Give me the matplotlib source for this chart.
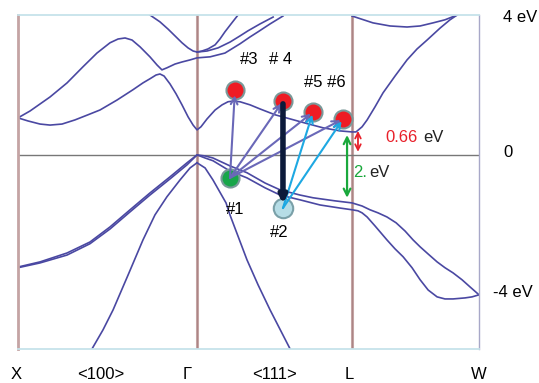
import matplotlib
matplotlib.use("Agg")
import matplotlib.pyplot as plt

plt.rcParams['font.family'] = ['Liberation Sans', 'DejaVu Sans']

# k-path positions (X-Gamma = 1)
k_X, k_G, k_L, k_W = 0.0, 1.0, 1.866, 2.575
k_labels = ['X', '<100>', 'Γ', '<111>', 'L', 'W']
k_label_pos = [-0.011, 0.464, 0.944, 1.43, 1.85, 2.575]

# conduction bands (k, eV)
cb1_k = [0, 0.056, 0.123, 0.179, 0.246, 0.318, 0.391, 0.458, 0.553, 0.642, 0.698, 0.737,
         0.771, 0.793, 0.816, 0.849, 0.883, 0.916, 0.950, 0.978, 1.0,
         1.022, 1.056, 1.101, 1.140, 1.173, 1.201, 1.240, 1.296, 1.352, 1.436, 1.520,
         1.603, 1.704, 1.799, 1.866,
         1.888, 1.922, 1.950, 1.994, 2.039, 2.106, 2.173, 2.229, 2.285, 2.358, 2.413, 2.453]
cb1_e = [1.08, 0.99, 0.90, 0.87, 0.90, 1.02, 1.17, 1.31, 1.60, 1.90, 2.10, 2.22,
         2.33, 2.36, 2.30, 2.07, 1.78, 1.46, 1.11, 0.87, 0.73,
         0.82, 1.05, 1.31, 1.46, 1.55, 1.57, 1.55, 1.46, 1.34, 1.17, 1.05,
         0.93, 0.79, 0.70, 0.67,
         0.67, 0.82, 1.02, 1.40, 1.81, 2.30, 2.77, 3.09, 3.35, 3.70, 3.94, 4.08]
cb2_k = [0, 0.067, 0.179, 0.274, 0.363, 0.441, 0.514, 0.559, 0.598, 0.637, 0.682, 0.737,
         0.777, 0.804, 0.832, 0.877, 0.916, 0.961, 1.0,
         1.073, 1.156, 1.240, 1.296, 1.341, 1.408, 1.480]
cb2_e = [1.08, 1.28, 1.69, 2.10, 2.57, 2.97, 3.27, 3.38, 3.41, 3.35, 3.15, 2.86,
         2.62, 2.48, 2.54, 2.65, 2.71, 2.77, 2.83,
         2.86, 2.97, 3.24, 3.44, 3.59, 3.82, 4.05]
cb3_k = [0.737, 0.793, 0.838, 0.877, 0.916, 0.950, 0.978, 1.0, 1.028, 1.061, 1.101,
         1.128, 1.156, 1.190, 1.229]
cb3_e = [4.08, 3.88, 3.67, 3.47, 3.27, 3.12, 3.03, 3.00, 3.03, 3.09, 3.21,
         3.38, 3.59, 3.82, 4.08]
cb4_k = [1.0, 1.056, 1.117, 1.184, 1.240, 1.285, 1.352, 1.425]
cb4_e = [3.00, 3.03, 3.12, 3.29, 3.47, 3.62, 3.82, 4.02]
cb5_k = [1.866, 1.983, 2.078, 2.173, 2.246, 2.318, 2.385, 2.453]
cb5_e = [4.05, 3.85, 3.76, 3.73, 3.76, 3.85, 3.94, 4.08]

# valence bands
hh1_k = [0, 0.123, 0.274, 0.402, 0.514, 0.626, 0.737, 0.849, 0.944, 1.0,
         1.045, 1.089, 1.184, 1.279, 1.380, 1.464, 1.575, 1.648, 1.771, 1.866,
         1.922, 1.966, 2.011, 2.061, 2.112, 2.162, 2.207, 2.246, 2.291, 2.341, 2.385,
         2.430, 2.480, 2.525, 2.575]
hh1_e = [-3.27, -3.12, -2.86, -2.54, -2.10, -1.60, -1.11, -0.64, -0.23, 0.0,
         -0.03, -0.09, -0.32, -0.52, -0.82, -1.02, -1.17, -1.25, -1.34, -1.40,
         -1.49, -1.60, -1.69, -1.81, -1.98, -2.22, -2.48, -2.68, -2.89, -3.12, -3.29,
         -3.44, -3.64, -3.85, -4.08]
hh2_k = [0, 0.123, 0.274, 0.402, 0.514, 0.626, 0.737, 0.849, 0.944, 1.0,
         1.045, 1.089, 1.184, 1.279, 1.380, 1.464, 1.575, 1.687, 1.799, 1.866,
         1.899, 1.922, 1.950, 1.994, 2.061, 2.106, 2.151, 2.201, 2.246, 2.291, 2.341,
         2.385, 2.430, 2.497, 2.536, 2.575]
hh2_e = [-3.29, -3.15, -2.92, -2.59, -2.16, -1.66, -1.17, -0.70, -0.29, 0.0,
         -0.09, -0.17, -0.47, -0.67, -0.96, -1.17, -1.31, -1.46, -1.55, -1.60,
         -1.63, -1.69, -1.81, -2.07, -2.48, -2.74, -2.97, -3.29, -3.64, -3.94, -4.14,
         -4.20, -4.20, -4.17, -4.14, -4.08]
so1_k = [0.413, 0.475, 0.531, 0.615, 0.698, 0.765, 0.832, 0.905, 0.961, 1.0]
so1_e = [-5.66, -5.10, -4.52, -3.50, -2.48, -1.75, -1.22, -0.73, -0.38, -0.23]
so2_k = [1.0, 1.045, 1.089, 1.162, 1.184, 1.279, 1.341, 1.408, 1.520]
so2_e = [-0.23, -0.38, -0.73, -1.40, -1.75, -3.06, -3.79, -4.52, -5.66]

bands = [(cb1_k, cb1_e), (cb2_k, cb2_e), (cb3_k, cb3_e), (cb4_k, cb4_e), (cb5_k, cb5_e),
         (hh1_k, hh1_e), (hh2_k, hh2_e), (so1_k, so1_e), (so2_k, so2_e)]

# states marked on the diagram
state_names = ['#1', '#2', '#3', '# 4', '#5', '#6']
state_k = [1.184, 1.480, 1.212, 1.480, 1.648, 1.816]
state_e = [-0.67, -1.55, 1.90, 1.57, 1.25, 1.05]

fig = plt.figure(figsize=(5.39, 3.83), dpi=100)
ax = fig.add_axes([18 / 539, 34 / 383, 461 / 539, 334 / 383])
ax.set_xlim(k_X, k_W)
ax.set_ylim(-5.66, 4.08)
ax.set_xticks([])
ax.set_yticks([])
for side in ['top', 'bottom']:
    ax.spines[side].set_color('#c6e3ea')
    ax.spines[side].set_linewidth(1.3)
ax.spines['left'].set_color('#c4a4a4')
ax.spines['left'].set_linewidth(2)
ax.spines['right'].set_color('#a8a8c8')
ax.spines['right'].set_linewidth(1)

ax.axvline(k_G, color='#c4a4a4', lw=2.2, zorder=1)
ax.axvline(k_G, color='#a88080', lw=0.6, zorder=1)
ax.axvline(k_L, color='#c4a4a4', lw=2.2, zorder=1)
ax.axvline(k_L, color='#a88080', lw=0.6, zorder=1)
ax.axhline(0, color='#777777', lw=1, zorder=1)

for bk, be in bands:
    ax.plot(bk, be, color='#4a48a2', lw=1.2, zorder=2, solid_joinstyle='round')

# markers
ax.plot(state_k[0], state_e[0], 'o', ms=13, mfc='#18a64a', mec='#7a9a9a', mew=1.5, zorder=3)
ax.plot(state_k[1], state_e[1], 'o', ms=14, mfc='#b6dde6', mec='#7aa0a8', mew=1.5, zorder=3)
for i in range(2, 6):
    ax.plot(state_k[i], state_e[i], 'o', ms=13, mfc='#ee1c24', mec='#7a9a9a', mew=1.5, zorder=3)

# transitions from #1
for i in range(2, 6):
    ax.annotate('', xy=(state_k[i], state_e[i]), xytext=(state_k[0], state_e[0]),
                arrowprops=dict(arrowstyle='->', color='#6a68b8', lw=1.5,
                                shrinkA=0, shrinkB=4 if i == 2 else 2, mutation_scale=12),
                zorder=4)
# transitions from #2
for i in [4, 5]:
    ax.annotate('', xy=(state_k[i], state_e[i]), xytext=(state_k[1], state_e[1]),
                arrowprops=dict(arrowstyle='->', color='#1ea8e2', lw=1.5,
                                shrinkA=0, shrinkB=2, mutation_scale=12),
                zorder=4)
# recombination #4 -> #2
ax.annotate('', xy=(state_k[1], state_e[1]), xytext=(state_k[3], state_e[3]),
            arrowprops=dict(arrowstyle='-|>', color='#0c1a3a', lw=4,
                            shrinkA=2, shrinkB=3, mutation_scale=10),
            zorder=5)

# gap arrows
ax.annotate('', xy=(1.899, 0.70), xytext=(1.899, 0.09),
            arrowprops=dict(arrowstyle='<->', color='#e8202a', lw=1.3, shrinkA=0, shrinkB=0,
                            mutation_scale=10))
ax.annotate('', xy=(1.838, 0.58), xytext=(1.838, -1.25),
            arrowprops=dict(arrowstyle='<->', color='#1aa83c', lw=1.6, shrinkA=0, shrinkB=0,
                            mutation_scale=12))

fs = 12
ax.text(2.050, 0.50, '0.66', color='#e8202a', fontsize=fs, va='center')
ax.text(2.262, 0.50, 'eV', color='#222222', fontsize=fs, va='center')
ax.text(1.872, -0.52, '2.', color='#1aa83c', fontsize=fs, va='center')
ax.text(1.960, -0.52, 'eV', color='#222222', fontsize=fs, va='center')

ax.text(1.291, 2.77, state_names[2], fontsize=fs, ha='center', va='center')
ax.text(1.469, 2.77, state_names[3], fontsize=fs, ha='center', va='center')
ax.text(1.715, 2.10, state_names[4] + ' ' + state_names[5], fontsize=fs, ha='center', va='center')
ax.text(1.212, -1.60, state_names[0], fontsize=fs, ha='center', va='center')
ax.text(1.458, -2.27, state_names[1], fontsize=fs, ha='center', va='center')

# energy labels on the right
ax.text(2.709, 4.0, '4 eV', fontsize=fs, va='center', clip_on=False)
ax.text(2.709, 0.06, '0', fontsize=fs, va='center', clip_on=False)
ax.text(2.653, -4.02, '-4 eV', fontsize=fs, va='center', clip_on=False)

for lab, pos in zip(k_labels, k_label_pos):
    ax.text(pos, -6.41, lab, fontsize=fs, ha='center', va='center', clip_on=False)

fig.savefig('out.png', dpi=100)
